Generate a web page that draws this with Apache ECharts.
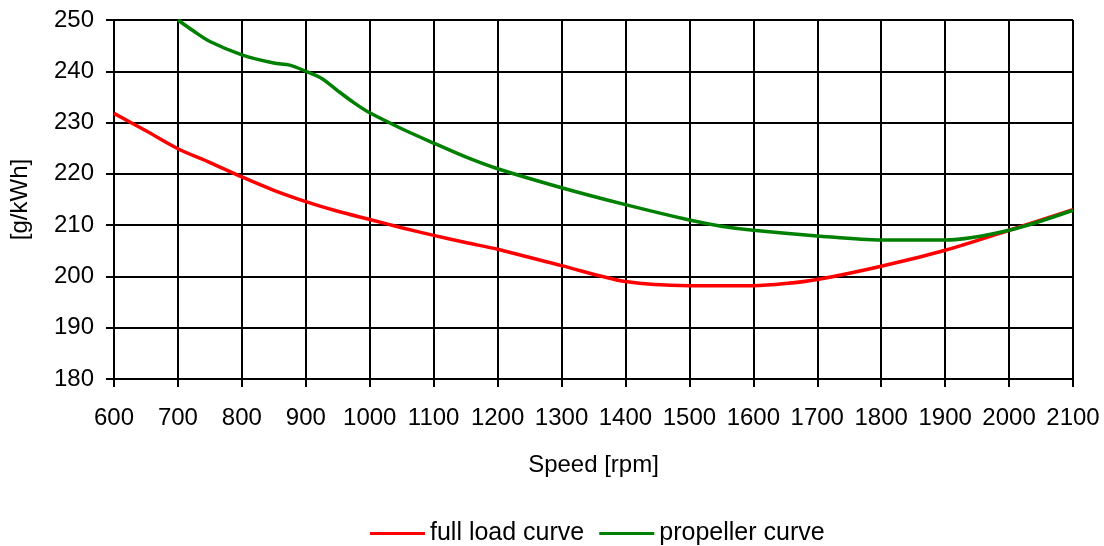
<!DOCTYPE html>
<html><head><meta charset="utf-8">
<script src="https://cdn.jsdelivr.net/npm/echarts@6/dist/echarts.min.js"></script>
<style>html,body{margin:0;padding:0;background:#fff}#c{width:1104px;height:546px}</style>
</head><body><div id="c"></div>
<script>
const fullLoadRpm = [600,650,700,750,800,850,900,950,1000,1050,1100,1150,1200,1300,1400,1500,1600,1650,1700,1800,1900,2000,2100];
const fullLoadVal = [231.8,228.4,224.9,222.2,219.4,216.8,214.6,212.7,211.1,209.5,208,206.6,205.3,202.1,199,198.2,198.2,198.6,199.4,202,205.1,209,213];
const propRpm = [700,725,750,800,850,875,900,925,950,975,1000,1050,1100,1150,1200,1300,1400,1500,1550,1600,1700,1800,1900,2000,2100];
const propVal = [250,247.8,245.8,243.2,241.6,241.2,240,238.6,236.2,233.9,231.9,228.8,226,223.3,221,217.3,214,211,209.8,209,207.9,207.1,207.1,209,212.9];
const xTicks = {min:600,max:2100,interval:100};
const yTicks = {min:180,max:250,interval:10};
const names = ['full load curve','propeller curve'];
const colors = ['#ff0000','#008000'];
const FONT = 'Liberation Sans, Arial, sans-serif';
const FS = 24;
const chart = echarts.init(document.getElementById('c'));
chart.setOption({
  animation:false,
  backgroundColor:'#fff',
  grid:{left:113,right:31,top:20,bottom:167,containLabel:false},
  xAxis:{type:'value',min:xTicks.min,max:xTicks.max,interval:xTicks.interval,
    name:'Speed [rpm]',nameLocation:'middle',nameGap:74,
    nameTextStyle:{fontFamily:FONT,fontSize:FS,color:'#000'},
    axisLine:{show:true,onZero:false,lineStyle:{color:'#000',width:2}},
    axisTick:{show:true,inside:false,length:8,lineStyle:{color:'#000',width:2}},
    axisLabel:{fontFamily:FONT,fontSize:FS,color:'#000',margin:27,formatter:v=>String(v)},
    splitLine:{show:true,lineStyle:{color:'#000',width:2}}},
  yAxis:{type:'value',min:yTicks.min,max:yTicks.max,interval:yTicks.interval,
    name:'[g/kWh]',nameLocation:'middle',nameGap:82,nameRotate:90,
    nameTextStyle:{fontFamily:FONT,fontSize:FS,color:'#000'},
    axisLine:{show:true,lineStyle:{color:'#000',width:2}},
    axisTick:{show:true,inside:false,length:8,lineStyle:{color:'#000',width:2}},
    axisLabel:{fontFamily:FONT,fontSize:FS,color:'#000',margin:20,formatter:v=>String(v)},
    splitLine:{show:true,lineStyle:{color:'#000',width:2}}},
  legend:{top:516,left:365,icon:'rect',itemWidth:55,itemHeight:3,itemGap:15,
    textStyle:{fontFamily:FONT,fontSize:25,color:'#000'},data:names},
  series:[
    {name:names[0],type:'line',data:fullLoadRpm.map((r,i)=>[r,fullLoadVal[i]]),showSymbol:false,smooth:0.3,
      lineStyle:{color:colors[0],width:3.5},itemStyle:{color:colors[0]}},
    {name:names[1],type:'line',data:propRpm.map((r,i)=>[r,propVal[i]]),showSymbol:false,smooth:0.3,
      lineStyle:{color:colors[1],width:3.5},itemStyle:{color:colors[1]}}
  ]
});
</script></body></html>
